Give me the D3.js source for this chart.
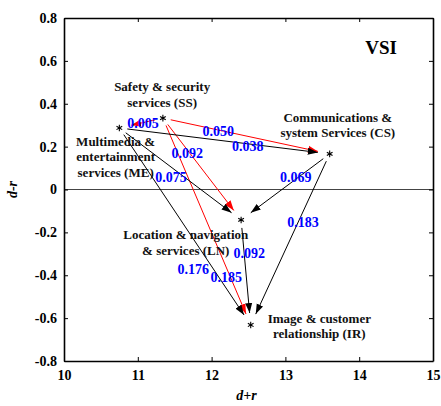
<!DOCTYPE html>
<html>
<head>
<meta charset="utf-8">
<script src="https://cdn.jsdelivr.net/npm/d3@7"></script>
<style>
  body { margin: 0; background: #fff; }
  svg text { font-family: "Liberation Serif", "Times New Roman", serif; font-weight: bold; }
</style>
</head>
<body>
<div id="chart"></div>
<script>
// points (d+r, d-r)
var codes = ['SS', 'ME', 'CS', 'LN', 'IR'];
var dPlusR = [11.34, 10.75, 13.60, 12.40, 12.53];
var dMinusR = [0.333, 0.287, 0.166, -0.142, -0.632];
var pointLabels = [
  ['Safety & security', 'services (SS)'],
  ['Multimedia &', 'entertainment', 'services (ME)'],
  ['Communications &', 'system Services (CS)'],
  ['Location & navigation', '& services (LN)'],
  ['Image & customer', 'relationship (IR)']
];
// where each point label sits, in chart units
var pointLabelX = [11.33, 10.70, 13.71, 11.65, 13.46];
var pointLabelY = [0.459, 0.203, 0.315, -0.231, -0.622];

// influence arrows
var arrowFrom = ['SS', 'SS', 'SS', 'SS', 'ME', 'ME', 'ME', 'CS', 'CS', 'LN'];
var arrowTo   = ['CS', 'ME', 'LN', 'IR', 'CS', 'LN', 'IR', 'LN', 'IR', 'IR'];
var arrowVal  = ['0.050', '0.005', '0.092', '0.185', '0.038', '0.075', '0.176', '0.069', '0.183', '0.092'];
var arrowRed  = [true, true, true, true, false, false, false, false, false, false];
var valLabelX = [12.09, 11.07, 11.67, 12.20, 12.49, 11.45, 11.75, 13.14, 13.24, 12.51];
var valLabelY = [0.273, 0.310, 0.170, -0.408, 0.203, 0.058, -0.371, 0.058, -0.152, -0.296];

var xTicks = [10, 11, 12, 13, 14, 15];
var yTicks = [0.8, 0.6, 0.4, 0.2, 0, -0.2, -0.4, -0.6, -0.8];

var width = 441, height = 406;
var margin = { top: 18, right: 8, bottom: 45, left: 64 };
var w = width - margin.left - margin.right,
    h = height - margin.top - margin.bottom;

var svg = d3.select('#chart').append('svg')
    .attr('width', width)
    .attr('height', height);

var defs = svg.append('defs');
['red', 'black'].forEach(function(c) {
  defs.append('marker')
      .attr('id', 'head-' + c)
      .attr('viewBox', '0 -4 10 8')
      .attr('refX', 10)
      .attr('refY', 0)
      .attr('markerUnits', 'userSpaceOnUse')
      .attr('markerWidth', 10)
      .attr('markerHeight', 8)
      .attr('orient', 'auto')
    .append('path')
      .attr('d', 'M0,-3.5L10,0L0,3.5Z')
      .attr('fill', c);
});

var g = svg.append('g').attr('transform', 'translate(' + margin.left + ',' + margin.top + ')');

var x = d3.scaleLinear().domain([10, 15]).range([0, w]);
var y = d3.scaleLinear().domain([-0.8, 0.8]).range([h, 0]);

// zero line
g.append('line')
    .attr('x1', 0).attr('x2', w)
    .attr('y1', y(0)).attr('y2', y(0))
    .attr('stroke', '#444')
    .attr('stroke-width', 1);

var fmtY = function(d) { return d === 0 ? '0' : d.toFixed(1); };

var axBottom = g.append('g').attr('transform', 'translate(0,' + h + ')')
    .call(d3.axisBottom(x).tickValues(xTicks).tickFormat(d3.format('d'))
      .tickSizeInner(-4).tickSizeOuter(0).tickPadding(9));
var axLeft = g.append('g')
    .call(d3.axisLeft(y).tickValues(yTicks).tickFormat(fmtY)
      .tickSizeInner(-4).tickSizeOuter(0).tickPadding(7));
var axTop = g.append('g')
    .call(d3.axisTop(x).tickValues(xTicks).tickFormat('')
      .tickSizeInner(-4).tickSizeOuter(0));
var axRight = g.append('g').attr('transform', 'translate(' + w + ',0)')
    .call(d3.axisRight(y).tickValues(yTicks).tickFormat('')
      .tickSizeInner(-4).tickSizeOuter(0));

[axBottom, axLeft, axTop, axRight].forEach(function(a) {
  a.select('.domain').attr('stroke', '#000').attr('stroke-width', 1.6);
  a.selectAll('.tick line').attr('stroke', '#000').attr('stroke-width', 1);
  a.selectAll('text')
      .attr('fill', '#000')
      .style('font-family', '"Liberation Serif", "Times New Roman", serif')
      .style('font-weight', 'bold')
      .style('font-size', '14px');
});

// axis titles
svg.append('text')
    .attr('x', margin.left + w / 2 - 2)
    .attr('y', 400)
    .attr('text-anchor', 'middle')
    .style('font-style', 'italic')
    .style('font-size', '14px')
    .text('d+r');
svg.append('text')
    .attr('transform', 'translate(17,' + (margin.top + y(0)) + ') rotate(-90)')
    .attr('text-anchor', 'middle')
    .style('font-style', 'italic')
    .style('font-size', '14px')
    .text('d-r');

// panel tag
g.append('text')
    .attr('x', w - 52)
    .attr('y', 36)
    .attr('text-anchor', 'middle')
    .style('font-size', '19px')
    .text('VSI');

// arrows
var idx = function(c) { return codes.indexOf(c); };
var arrows = arrowFrom.map(function(f, i) {
  return { from: idx(f), to: idx(arrowTo[i]), val: arrowVal[i], red: arrowRed[i],
           lx: valLabelX[i], ly: valLabelY[i] };
});

g.selectAll('line.arrow')
    .data(arrows)
  .enter().append('line')
    .attr('class', 'arrow')
    .each(function(d) {
      var x1 = x(dPlusR[d.from]), y1 = y(dMinusR[d.from]),
          x2 = x(dPlusR[d.to]), y2 = y(dMinusR[d.to]);
      var dx = x2 - x1, dy = y2 - y1, len = Math.sqrt(dx * dx + dy * dy);
      var s = 8 / len, e = 12 / len;
      d3.select(this)
        .attr('x1', x1 + dx * s).attr('y1', y1 + dy * s)
        .attr('x2', x2 - dx * e).attr('y2', y2 - dy * e);
    })
    .attr('stroke', function(d) { return d.red ? 'red' : 'black'; })
    .attr('stroke-width', 1)
    .attr('marker-end', function(d) { return d.red ? 'url(#head-red)' : 'url(#head-black)'; });

// points
g.selectAll('path.pt')
    .data(codes)
  .enter().append('path')
    .attr('class', 'pt')
    .attr('transform', function(d, i) { return 'translate(' + x(dPlusR[i]) + ',' + y(dMinusR[i]) + ')'; })
    .attr('d', d3.symbol().type(d3.symbolAsterisk).size(30))
    .attr('stroke', '#000')
    .attr('stroke-width', 1.1)
    .attr('fill', 'none');

// point labels
codes.forEach(function(c, i) {
  var t = g.append('text')
      .attr('text-anchor', 'middle')
      .attr('fill', '#111')
      .style('font-size', '13px');
  pointLabels[i].forEach(function(line, j) {
    t.append('tspan')
        .attr('x', x(pointLabelX[i]))
        .attr('y', y(pointLabelY[i]) + j * 15.5)
        .text(line);
  });
});

// value labels
g.selectAll('text.val')
    .data(arrows)
  .enter().append('text')
    .attr('class', 'val')
    .attr('x', function(d) { return x(d.lx); })
    .attr('y', function(d) { return y(d.ly); })
    .attr('dy', '0.35em')
    .attr('text-anchor', 'middle')
    .attr('fill', '#0000ff')
    .style('font-size', '14px')
    .text(function(d) { return d.val; });
</script>
</body>
</html>
